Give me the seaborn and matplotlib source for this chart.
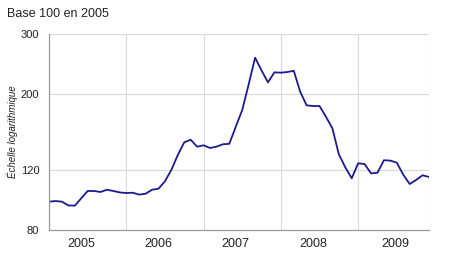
import matplotlib
matplotlib.use("Agg")
import matplotlib.pyplot as plt
from matplotlib.ticker import NullLocator, FixedLocator, FixedFormatter
import seaborn as sns
import pandas as pd
import numpy as np

# Monthly index values, Jan 2005 - Dec 2009 (base 100 in 2005)
values = [
    96.8, 97.2, 96.8, 94.4, 94.2, 99.0, 104.0, 104.0, 103.3, 104.9, 104.0, 103.0,
    102.6, 102.8, 101.5, 102.1, 104.9, 105.6, 111.0, 119.9, 132.5, 144.3, 146.8, 140.1,
    141.4, 138.9, 140.1, 142.4, 142.9, 160.2, 179.3, 213.0, 254.9, 234.0, 216.0, 231.0,
    230.5, 231.5, 233.5, 202.8, 185.0, 184.2, 184.2, 171.4, 158.5, 133.1, 122.0, 113.3,
    125.3, 124.7, 117.1, 117.6, 127.9, 127.6, 125.8, 116.1, 109.0, 112.0, 115.6, 114.3,
]
years = ["2005", "2006", "2007", "2008", "2009"]
y_ticks = [80, 120, 200, 300]

df = pd.DataFrame({"month": np.arange(len(values)), "value": values})

sns.set_theme(style="white")
plt.rcParams["font.family"] = ["Liberation Sans", "DejaVu Sans"]

fig = plt.figure(figsize=(4.5, 2.8), dpi=100)
ax = fig.add_axes([49 / 450, 1 - 230 / 280, 380 / 450, (230 - 33.5) / 280])

sns.lineplot(data=df, x="month", y="value", ax=ax, color="#1c1a8e", linewidth=1.3)

ax.set_yscale("log")
ax.set_ylim(80, 300)
ax.set_xlim(0, len(values) - 1)

ax.yaxis.set_major_locator(FixedLocator(y_ticks))
ax.yaxis.set_major_formatter(FixedFormatter([str(v) for v in y_ticks]))
ax.yaxis.set_minor_locator(NullLocator())

# year boundaries as major ticks (no labels), year names as minor ticks
boundaries = [12 * i for i in range(len(years))]
ax.xaxis.set_major_locator(FixedLocator(boundaries))
ax.xaxis.set_major_formatter(FixedFormatter([""] * len(boundaries)))
label_pos = [5, 17, 29, 41, 53.8]
ax.xaxis.set_minor_locator(FixedLocator(label_pos))
ax.xaxis.set_minor_formatter(FixedFormatter(years))

ax.tick_params(axis="x", which="major", length=4, width=0.8, color="#999999", direction="out")
ax.tick_params(axis="x", which="minor", length=0, pad=6, labelsize=9, labelcolor="#222222")
ax.tick_params(axis="y", which="major", length=3, width=0.8, color="#999999", pad=4,
               labelsize=8, labelcolor="#222222")

# grid
for yv in [120, 200, 300]:
    ax.axhline(yv, color="#d9d9d9", linewidth=0.8, zorder=0)
for xv in boundaries[1:] + [len(values) - 1]:
    ax.axvline(xv, color="#d9d9d9", linewidth=0.8, zorder=0)

for side in ["top", "right"]:
    ax.spines[side].set_visible(False)
for side in ["left", "bottom"]:
    ax.spines[side].set_color("#999999")
    ax.spines[side].set_linewidth(0.9)

ax.set_xlabel("")
ax.set_ylabel("")
fig.text(12 / 450, 1 - 132 / 280, "Échelle logarithmique", rotation=90, fontsize=7,
         style="italic", ha="center", va="center", color="#222222")
fig.text(7 / 450, 1 - 14 / 280, "Base 100 en 2005", fontsize=9, ha="left", va="center",
         color="#222222")

fig.savefig("out.png", dpi=100)
